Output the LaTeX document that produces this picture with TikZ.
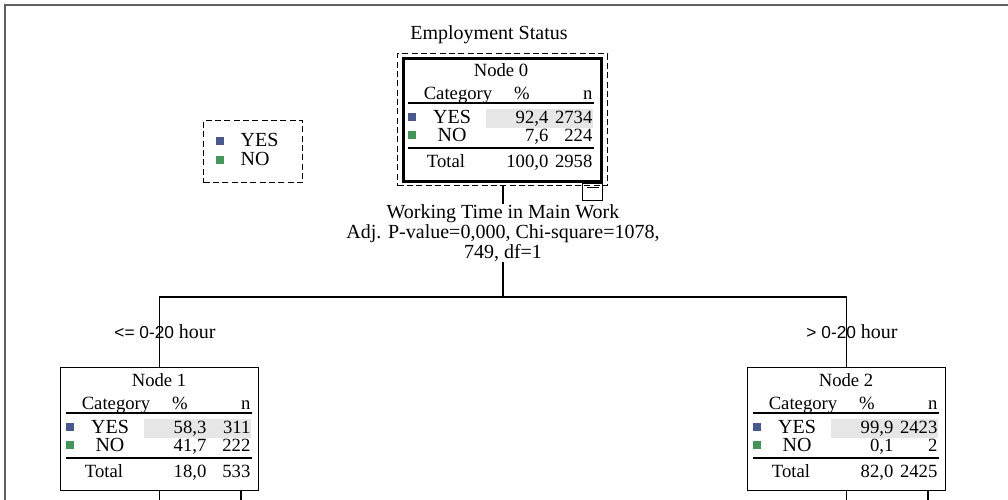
\documentclass[tikz,border=0pt]{standalone}
\usepackage{fontspec}
\setmainfont{Liberation Serif}
\newfontfamily\labsans{Liberation Sans}
\usepackage{tikz}
\usetikzlibrary{positioning}
\definecolor{yescol}{RGB}{72,88,140}
\definecolor{nocol}{RGB}{68,150,88}
\definecolor{rowgray}{RGB}{230,230,230}

\begin{document}
\begin{tikzpicture}[x=0.75pt,y=-0.75pt,line width=1pt,
   every node/.style={font=\fontsize{14}{16}\selectfont,inner sep=0pt},
   cell/.style={text height=10pt,text depth=3pt},
   nodebox/.style={draw,rectangle,anchor=north west,minimum width=198*0.75pt,minimum height=123*0.75pt},
   dashbox/.style={draw,rectangle,anchor=north west,line width=1.1pt,dash pattern=on 4.5pt off 2.5pt},
   sq/.style={rectangle,minimum size=8*0.75pt}]
  \useasboundingbox (0,0) rectangle (1008,500);
  % frame
  \draw[gray!75!black,line width=1.6pt] (5,500) -- (5,5) -- (1008,5);
  \node[font=\fontsize{15}{18}\selectfont] (title) at (489,35) {Employment Status};
  % legend
  \node[dashbox,minimum width=99*0.75pt,minimum height=62*0.75pt] (legend) at (203,120) {};
  \node[sq,fill=yescol] (legyes) at (220,141) {};
  \node[sq,fill=nocol] (legno) at (220,160) {};
  \node[cell,anchor=west,font=\fontsize{15}{16}\selectfont] at (240,142) {YES};
  \node[cell,anchor=west,font=\fontsize{15}{16}\selectfont] at (240,161) {NO};
  % tree nodes
  \node[dashbox,minimum width=210*0.75pt,minimum height=132*0.75pt] (n0out) at (397,53) {};
  \foreach \nm/\lx/\ty/\k/\bw/\yp/\yn/\np/\nn/\tp/\tn in
     {n0/402/57/0/2.3pt/{92,4}/2734/{7,6}/224/{100,0}/2958,
      n1/60/367/1/1pt/{58,3}/311/{41,7}/222/{18,0}/533,
      n2/747/367/2/1pt/{99,9}/2423/{0,1}/2/{82,0}/2425}{
    \fill[rowgray] (\lx+84,\ty+52) rectangle (\lx+191,\ty+71);
    \node[nodebox,line width=\bw] (\nm) at (\lx,\ty) {};
    \node[cell] at (\lx+99,\ty+15) {Node \k};
    \node[cell] at (\lx+56,\ty+38) {Category};
    \node[cell] at (\lx+120,\ty+38) {\%};
    \node[cell,anchor=east] at (\lx+191,\ty+38) {n};
    \draw (\lx+6,\ty+46) -- (\lx+192,\ty+46);
    \node[sq,fill=yescol] at (\lx+10,\ty+60) {};
    \node[sq,fill=nocol] at (\lx+10,\ty+78) {};
    \node[cell,font=\fontsize{15}{16}\selectfont] at (\lx+50,\ty+62) {YES};
    \node[cell,font=\fontsize{15}{16}\selectfont] at (\lx+50,\ty+80) {NO};
    \node[cell,anchor=east] at (\lx+147,\ty+62) {\yp};
    \node[cell,anchor=east] at (\lx+191,\ty+62) {\yn};
    \node[cell,anchor=east] at (\lx+147,\ty+80) {\np};
    \node[cell,anchor=east] at (\lx+191,\ty+80) {\nn};
    \draw (\lx+6,\ty+91) -- (\lx+192,\ty+91);
    \node[cell] at (\lx+44,\ty+106) {Total};
    \node[cell,anchor=east] at (\lx+147,\ty+106) {\tp};
    \node[cell,anchor=east] at (\lx+191,\ty+106) {\tn};
  }
  \node[draw,anchor=north west,minimum width=20*0.75pt,minimum height=17*0.75pt] (n0tog) at (582,183) {};
  \draw ([shift={(3.5pt,-3.5pt)}]n0tog.north west) -- ([shift={(-3.5pt,-3.5pt)}]n0tog.north east);
  % split
  \node[align=center,font=\fontsize{15}{15}\selectfont] (split) at (503,233)
     {Working Time in Main Work\\Adj. P-value=0,000, Chi-square=1078,\\749, df=1};
  \coordinate (fork) at (503,297);
  \draw (n0out.south -| split.north) -- (split.north);
  \draw (split.south) -- (fork);
  \draw (n1.north) |- (fork) -| (n2.north);
  \node[font=\fontsize{13}{15}\selectfont] (lab1) at (165,332) {\labsans<= 0-20 \rmfamily\fontsize{15}{16}\selectfont hour};
  \node[font=\fontsize{13}{15}\selectfont] (lab2) at (852,332) {\labsans> 0-20 \rmfamily\fontsize{15}{16}\selectfont hour};
  \foreach \c in {n1,n2}{
    \draw (\c.south) -- ++(0,12);
    \draw ([xshift=61pt]\c.south) -- ++(0,12);
  }
\end{tikzpicture}
\end{document}
